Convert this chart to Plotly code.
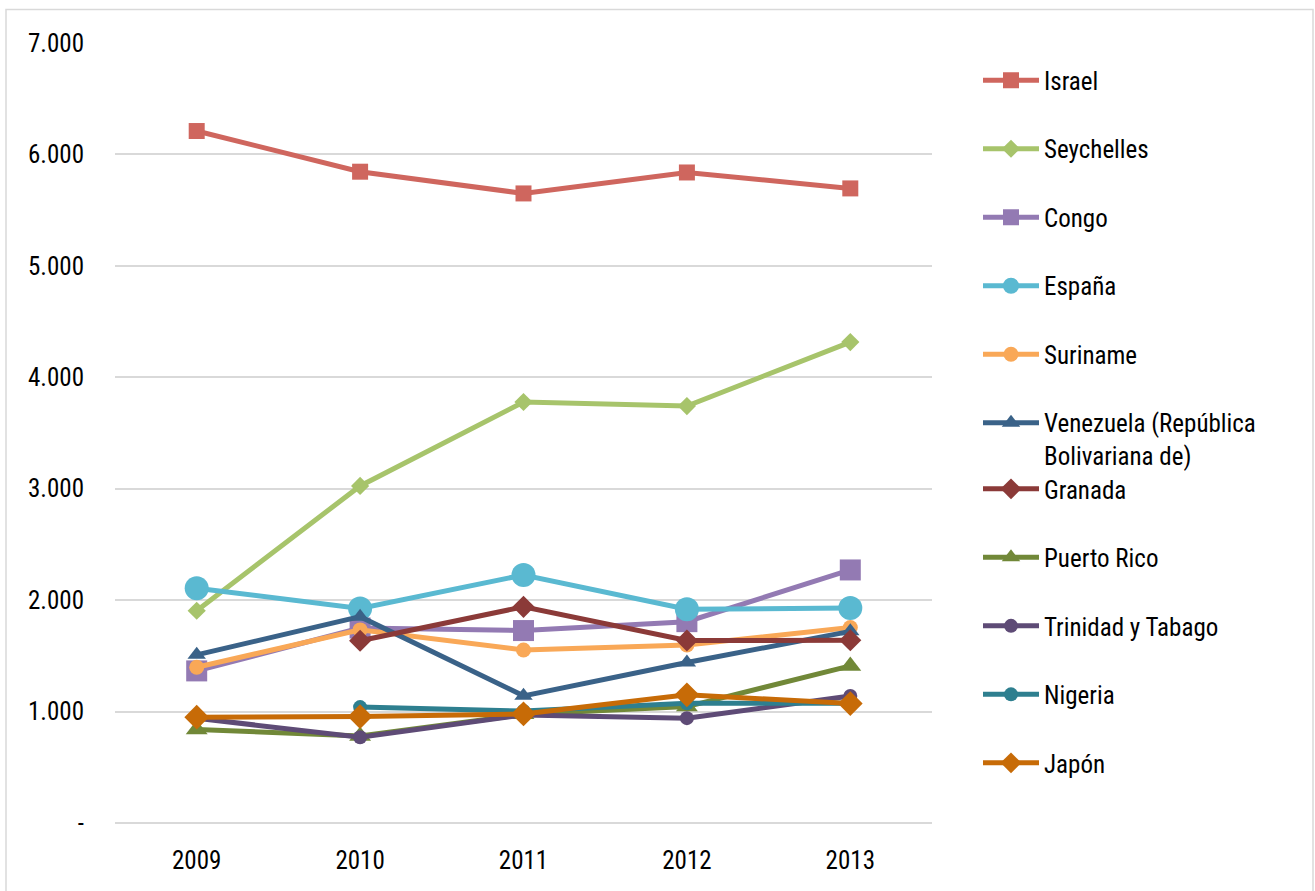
import plotly.graph_objects as go

years = ["2009", "2010", "2011", "2012", "2013"]

israel = [6210, 5845, 5650, 5838, 5695]
seychelles = [1905, 3025, 3778, 3742, 4316]
congo = [1365, 1750, 1727, 1807, 2271]
espana = [2107, 1925, 2226, 1918, 1930]
suriname = [1398, 1733, 1553, 1598, 1755]
venezuela = [1509, 1852, 1141, 1440, 1720]
granada = [None, 1635, 1940, 1638, 1640]
puerto_rico = [840, 780, 975, 1045, 1410]
trinidad = [940, 770, 970, 941, 1140]
nigeria = [None, 1040, 1005, 1075, 1075]
japon = [950, 955, 979, 1150, 1072]

y_ticks = [0, 1000, 2000, 3000, 4000, 5000, 6000, 7000]
y_tick_labels = ["-", "1.000", "2.000", "3.000", "4.000", "5.000", "6.000", "7.000"]

# name, values, colour, symbol, marker size, legend
series = [
    ("Israel", israel, "#CF665E", "square", 16, "legend"),
    ("Seychelles", seychelles, "#A7C46B", "diamond", 14, "legend"),
    ("Congo", congo, "#937AB3", "square", 21, "legend"),
    ("España", espana, "#5AB9D1", "circle", 24, "legend"),
    ("Suriname", suriname, "#F9A857", "circle", 15, "legend"),
    ("Venezuela (República<br>Bolivariana de)", venezuela, "#3A6288", "triangle-up", 16, "legend"),
    ("Granada", granada, "#8B3A38", "diamond", 17, "legend2"),
    ("Puerto Rico", puerto_rico, "#718838", "triangle-up", 19, "legend2"),
    ("Trinidad y Tabago", trinidad, "#5E4B76", "circle", 14, "legend2"),
    ("Nigeria", nigeria, "#2E7F8F", "circle", 14, "legend2"),
    ("Japón", japon, "#C76B07", "diamond", 19, "legend2"),
]

FONT = "Roboto Condensed, Liberation Sans Narrow, sans-serif"

fig = go.Figure()
for name, vals, color, sym, size, leg in series:
    fig.add_trace(go.Scatter(
        x=years, y=vals, name=name, mode="lines+markers",
        line=dict(color=color, width=5),
        marker=dict(symbol=sym, size=size, color=color,
                    line=dict(width=0)),
        connectgaps=False,
        legendgroup=name.split("<")[0], legend=leg,
    ))

W, H = 1315, 891
L, R, T, B = 115, 932, 42.5, 823.2

def px(x):
    return (x - L) / (R - L)

def py(y):
    return (B - y) / (B - T)

legend_common = dict(
    font=dict(family=FONT, size=25, color="#000000"),
    bgcolor="rgba(0,0,0,0)", borderwidth=0,
    tracegroupgap=33, itemwidth=56, valign="top",
    xanchor="left", yanchor="top", itemsizing="trace",
)

fig.update_layout(
    width=W, height=H,
    margin=dict(l=L, r=W - R, t=T, b=H - B, pad=0),
    paper_bgcolor="white", plot_bgcolor="white",
    font=dict(family=FONT, size=25, color="#000000"),
    showlegend=True,
    legend=dict(x=px(978), y=py(57), **legend_common),
    legend2=dict(x=px(978), y=py(466), **legend_common),
    xaxis=dict(
        type="category", range=[-0.5, 4.5],
        showgrid=False, showline=False, zeroline=False,
        ticks="", ticklabelstandoff=20,
        tickfont=dict(family=FONT, size=25, color="#000000"),
    ),
    yaxis=dict(
        range=[0, 7000], tickvals=y_ticks, ticktext=y_tick_labels,
        showgrid=True, gridcolor="#D9D9D9", gridwidth=1.5,
        zeroline=True, zerolinecolor="#D9D9D9", zerolinewidth=1.5,
        showline=False, ticks="", ticklabelstandoff=30,
        tickfont=dict(family=FONT, size=25, color="#000000"),
    ),
    shapes=[dict(
        type="rect", xref="paper", yref="paper",
        x0=px(6), x1=px(1313), y0=py(905), y1=py(9),
        line=dict(color="#D9D9D9", width=1.5), layer="below",
    )],
)

fig.write_html("out.html")
